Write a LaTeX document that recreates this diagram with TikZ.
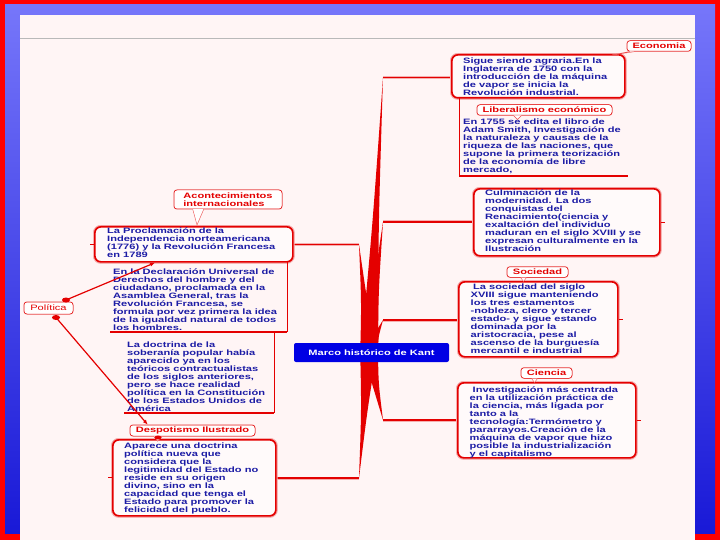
\documentclass[tikz,border=0pt]{standalone}
\usepackage{fontspec}
\setmainfont{Liberation Sans}[FakeStretch=1.42]
\usetikzlibrary{arrows.meta,calc}
\definecolor{tblue}{RGB}{28,28,165}
\definecolor{bred}{RGB}{228,0,0}
\definecolor{pred}{RGB}{255,0,0}
\definecolor{glow}{RGB}{245,175,175}
\definecolor{slide}{RGB}{255,245,245}
\definecolor{cblue}{RGB}{0,0,228}
\definecolor{frameTop}{RGB}{118,118,250}
\definecolor{frameBot}{RGB}{25,25,215}
\begin{document}
\begin{tikzpicture}[x=1pt,y=-1pt,
  txt/.style={font=\fontsize{7.8}{8}\selectfont\bfseries, text=tblue, align=left, anchor=north west, inner sep=0pt},
  boxshape/.style={draw=bred, line width=1.7pt, rounded corners=6pt, fill=white!50!slide, anchor=north west, inner sep=0pt, preaction={draw=glow, line width=3.6pt}},
  lbl/.style={draw=bred, line width=0.5pt, rounded corners=3pt, fill=white, font=\fontsize{7.8}{8}\selectfont\bfseries, text=bred, inner sep=0pt, preaction={draw=glow, line width=1.4pt}},
  link/.style={draw=bred, line width=1.7pt, preaction={draw=glow, line width=3pt}},
  frameline/.style={draw=bred, line width=0.6pt},
  framebase/.style={draw=bred, line width=1.4pt},
  tail/.style={draw=bred!70, line width=0.4pt, fill=white},
  stub/.style={draw=bred, line width=1pt},
  arr/.style={draw=bred, line width=1.2pt, -{Latex[length=5pt,width=4pt]}}
]
\useasboundingbox (0,0) rectangle (720,540);
% frame
\fill[pred] (0,0) rectangle (720,540);
\shade[top color=frameTop, bottom color=frameBot] (5,5) rectangle (715,533);
\fill[slide] (20,15) rectangle (695,540);
\draw[gray!55, line width=0.7pt] (20,38) -- (695,38);

% branch corners
\coordinate (c) at (369,352);
\coordinate (kE) at (383,77.5);
\coordinate (kC) at (383,222);
\coordinate (kS) at (383,320);
\coordinate (kCi) at (383,420);
\coordinate (kP) at (359,244.5);
\coordinate (kD) at (359,478);

% boxes
\node[boxshape, minimum width=173pt, minimum height=43pt] (econ) at (451,54) {};
\node[boxshape, minimum width=186pt, minimum height=67pt] (culm) at (473,188) {};
\node[boxshape, minimum width=159pt, minimum height=75pt] (soc) at (458,281) {};
\node[boxshape, minimum width=178pt, minimum height=75pt] (cien) at (457,382) {};
\node[boxshape, minimum width=198pt, minimum height=35pt] (procl) at (94,226) {};
\node[boxshape, minimum width=163pt, minimum height=76pt] (desp) at (112,439) {};

% wedges (tapering connectors from the centre)
\foreach \k in {kE,kC,kP}
  \fill[bred] ($(c)+(-9,8)$) .. controls ($(c)!0.45!(\k)+(-3,0)$) .. (\k) .. controls ($(c)!0.45!(\k)+(3,0)$) .. ($(c)+(9,8)$) -- cycle;
\foreach \k in {kS,kCi,kD}
  \fill[bred] ($(c)+(-9,-8)$) .. controls ($(c)!0.45!(\k)+(-3,0)$) .. (\k) .. controls ($(c)!0.45!(\k)+(3,0)$) .. ($(c)+(9,-8)$) -- cycle;

% horizontal links
\draw[link] (kE) -- (kE -| econ.west);
\draw[link] (kC) -- (kC -| culm.west);
\draw[link] (kS) -- (kS -| soc.west);
\draw[link] (kCi) -- (kCi -| cien.west);
\draw[link] (kP) -- (kP -| procl.east);
\draw[link] (kD) -- (kD -| desp.east);

% redraw boxes above glow of links
\node[boxshape, minimum width=173pt, minimum height=43pt] at (451,54) {};
\node[boxshape, minimum width=186pt, minimum height=67pt] at (473,188) {};
\node[boxshape, minimum width=159pt, minimum height=75pt] at (458,281) {};
\node[boxshape, minimum width=178pt, minimum height=75pt] at (457,382) {};
\node[boxshape, minimum width=198pt, minimum height=35pt] at (94,226) {};
\node[boxshape, minimum width=163pt, minimum height=76pt] at (112,439) {};

% stubs
\draw[stub] (culm.east) -- ++(4,0);
\draw[stub] (soc.east) -- ++(4,0);
\draw[stub] (cien.east) -- ++(4,0);
\draw[stub] (procl.west) -- ++(-4,0);
\draw[stub] (desp.west) -- ++(-4,0);

% central node
\node[fill=cblue, rounded corners=2pt, minimum width=155pt, minimum height=19pt, inner sep=0pt,
      text=white, font=\fontsize{7.8}{8}\selectfont\bfseries] (kant) at (371.5,352.5) {Marco histórico de Kant};

% texts in boxes
\node[txt] (econT) at ($(econ.north west)+(12,3.5)$) {Sigue siendo agraria.En la\\Inglaterra de 1750 con la\\introducción de la máquina\\de vapor se inicia la\\Revolución industrial.};
\node[txt] (culmT) at ($(culm.north west)+(12,2)$) {Culminación de la\\modernidad. La dos\\conquistas del\\Renacimiento(ciencia y\\exaltación del individuo\\maduran en el siglo XVIII y se\\expresan culturalmente en la\\Ilustración};
\node[txt] (socT) at ($(soc.north west)+(12.5,3)$) {\hspace*{2.5pt}La sociedad del siglo\\XVIII sigue manteniendo\\los tres estamentos\\-nobleza, clero y tercer\\estado- y sigue estando\\dominada por la\\aristocracia, pese al\\ascenso de la burguesía\\mercantil e industrial};
\node[txt] (cienT) at ($(cien.north west)+(12.5,4.5)$) {\hspace*{3pt}Investigación más centrada\\en la utilización práctica de\\la ciencia, más ligada por\\tanto a la\\tecnología:Termómetro y\\pararrayos.Creación de la\\máquina de vapor que hizo\\posible la industrialización\\y el capitalismo};
\node[txt] (proclT) at ($(procl.north west)+(13,1.5)$) {La Proclamación de la\\Independencia norteamericana\\(1776) y la Revolución Francesa\\en 1789};
\node[txt] (despT) at ($(desp.north west)+(12,3.5)$) {Aparece una doctrina\\política nueva que\\considera que la\\legitimidad del Estado no\\reside en su origen\\divino, sino en la\\capacidad que tenga el\\Estado para promover la\\felicidad del pueblo.};

% open framed texts
\node[txt] (libT) at (463,119) {En 1755 se edita el libro de\\Adam Smith, Investigación de\\la naturaleza y causas de la\\riqueza de las naciones, que\\supone la primera teorización\\de la economía de libre\\mercado,};
\draw[frameline] (459,97) -- (459,176);
\draw[framebase] (459,176) -- (628,176);

\node[txt] (declT) at (113,269) {En la Declaración Universal de\\Derechos del hombre y del\\ciudadano, proclamada en la\\Asamblea General, tras la\\Revolución Francesa, se\\formula por vez primera la idea\\de la igualdad natural de todos\\los hombres.};
\draw[frameline] (287,261) -- (287,332);
\draw[framebase] (110,332) -- (287,332);

\node[txt] (doctT) at (127,341.5) {La doctrina de la\\soberanía popular había\\aparecido ya en los\\teóricos contractualistas\\de los siglos anteriores,\\pero se hace realidad\\política en la Constitución\\de los Estados Unidos de\\América};
\draw[frameline] (274,332) -- (274,413);
\draw[framebase] (124,413) -- (274,413);

% labels
\node[lbl, minimum width=64pt, minimum height=10.5pt] (ecoL) at (659,46) {Economia};
\node[lbl, minimum width=135pt, minimum height=10.5pt] (libL) at (544.5,110) {Liberalismo económico};
\node[lbl, minimum width=61pt, minimum height=10.5pt] (socL) at (537.5,272) {Sociedad};
\node[lbl, minimum width=51pt, minimum height=10.5pt] (cienL) at (546.5,373) {Ciencia};
\node[lbl, minimum width=108pt, minimum height=19pt, align=left] (acL) at (228,199.5) {Acontecimientos\\internacionales};
\node[lbl, minimum width=49pt, minimum height=12pt, font=\fontsize{7.8}{8}\selectfont] (polL) at (48.5,308) {Política};
\node[lbl, minimum width=125pt, minimum height=11pt] (despL) at (192.5,430.5) {Despotismo Ilustrado};

% callout tails
\draw[tail] ($(ecoL.south west)+(3,0)$) -- (612,55) -- ($(ecoL.south west)+(9,0)$);
\draw[tail] ($(libL.south)+(-31,0)$) -- ($(libL.south)+(-27,4)$) -- ($(libL.south)+(-23,0)$);
\draw[tail] ($(socL.south)+(-17,0)$) -- ($(socL.south)+(-14,4)$) -- ($(socL.south)+(-11,0)$);
\draw[tail] ($(cienL.south)+(-15,0)$) -- ($(cienL.south)+(-12,4)$) -- ($(cienL.south)+(-9,0)$);
\draw[tail] ($(acL.south west)+(19,0)$) -- ($(procl.north west)+(103,-1)$) -- ($(acL.south west)+(30,0)$);
\draw[tail] ($(despL.south west)+(24,0)$) -- ($(despL.south west)+(28,5)$) -- ($(despL.south west)+(32,0)$);
\fill[bred] ($(desp.north west)+(46,-1.5)$) ellipse (3.5 and 2);

% Politica connectors
\fill[bred] (66,300) ellipse (4 and 2.5);
\fill[bred] (56,317.5) ellipse (4 and 2.5);
\coordinate (pA) at ($(procl.south west)+(61,0)$);
\coordinate (pB) at ($(despL.north west)+(18,0)$);
\draw[arr] (66,300) -- (pA);
\draw[arr] (56,317.5) -- (pB);
\end{tikzpicture}
\end{document}
